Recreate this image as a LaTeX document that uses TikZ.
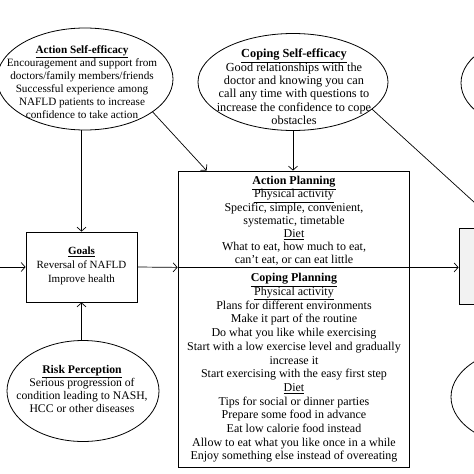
\documentclass[tikz,border=0pt]{standalone}
\usepackage{fontspec}
\setmainfont{Liberation Serif}
\usetikzlibrary{arrows.meta,shapes.geometric}
\definecolor{boxgray}{HTML}{F2F2F2}
\tikzset{
  oval/.style={ellipse, draw=black, line width=0.8pt, inner sep=0pt},
  block/.style={rectangle, draw=black, line width=0.8pt, inner sep=0pt},
  txt/.style={align=center, inner sep=0pt, font=\fontsize{11}{13.2}\selectfont},
  conn/.style={-{Straight Barb[length=4pt,width=9pt]}, line width=0.7pt},
}

\begin{document}
\begin{tikzpicture}[x=1pt, y=-1pt]
  \useasboundingbox[fill=white] (0,0) rectangle (474,474);
  \clip (0,0) rectangle (474,474);
  % ovals
  \node[oval, minimum width=176pt, minimum height=102pt] (ase) at (85,79) {};
  \node[oval, minimum width=190pt, minimum height=97pt] (cse) at (293,82) {};
  \node[oval, minimum width=152pt, minimum height=101pt] (risk) at (83,391) {};
  \node[oval, minimum width=160pt, minimum height=96pt] (topright) at (541,83) {};
  \node[oval, minimum width=160pt, minimum height=100pt] (botright) at (531,397) {};
  % boxes
  \node[block, minimum width=111pt, minimum height=70pt] (goals) at (81.5,267) {};
  \node[block, minimum width=231pt, minimum height=96pt] (plan) at (293.5,219) {};
  \node[block, minimum width=231pt, minimum height=200pt] (cope) at (293.5,367) {};
  \node[block, fill=boxgray, minimum width=86pt, minimum height=76pt] (rbox) at (502,266) {};
  % texts
  \node[txt, font=\fontsize{11.2}{13}\selectfont] (aseText) at (82,82) {\textbf{\underline{Action Self-efficacy}}\\
    Encouragement and support from\\ doctors/family members/friends\\
    Successful experience among\\ NAFLD patients to increase\\ confidence to take action};
  \node[txt, font=\fontsize{12.3}{13.4}\selectfont] (cseText) at (294,87) {\textbf{\underline{Coping Self-efficacy}}\\
    Good relationships with the\\ doctor and knowing you can\\
    call any time with questions to\\ increase the confidence to cope\\ obstacles};
  \node[txt, font=\fontsize{11}{14}\selectfont] (goalsText) at (81.5,266) {\textbf{\underline{Goals}}\\
    Reversal of NAFLD\\ Improve health};
  \node[txt, font=\fontsize{11.7}{13.3}\selectfont] (riskText) at (82,389) {\textbf{\underline{Risk Perception}}\\
    Serious progression of\\ condition leading to NASH,\\ HCC or other diseases};
  \node[txt, font=\fontsize{12}{13}\selectfont] (planText) at (294,221) {\textbf{\underline{Action Planning}}\\
    \underline{Physical activity}\\ Specific, simple, convenient,\\ systematic, timetable\\
    \underline{Diet}\\ What to eat, how much to eat,\\ can't eat, or can eat little};
  \node[txt, font=\fontsize{12}{13.7}\selectfont] (copeText) at (294,368) {\textbf{\underline{Coping Planning}}\\
    \underline{Physical activity}\\ Plans for different environments\\ Make it part of the routine\\
    Do what you like while exercising\\ Start with a low exercise level and gradually\\ increase it\\
    Start exercising with the easy first step\\ \underline{Diet}\\
    Tips for social or dinner parties\\ Prepare some food in advance\\ Eat low calorie food instead\\
    Allow to eat what you like once in a while\\ Enjoy something else instead of overeating};
  % connectors
  \coordinate (leftin) at (0,267);
  \draw[conn] (leftin) -- (goals.west);
  \draw[conn] (ase.south -| goals.north) -- (goals.north);
  \draw[conn] (risk.north -| goals.south) -- (goals.south);
  \draw[conn] (goals.east) -- (plan.south west);
  \draw[conn] (ase.-26) -- ([xshift=29pt]plan.north west);
  \draw[conn] (cse.south) -- (cse.south |- plan.north);
  \draw[conn] (plan.south east) -- (plan.south east -| rbox.west);
  \draw[conn] (cse.-19) -- (rbox.north);
\end{tikzpicture}
\end{document}
